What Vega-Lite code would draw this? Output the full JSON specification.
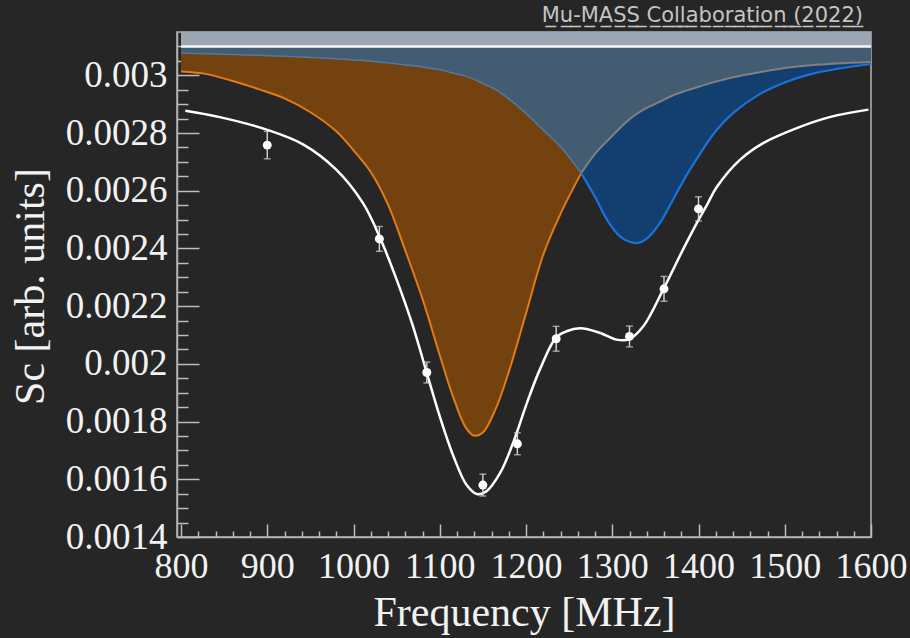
{
  "$schema": "https://vega.github.io/schema/vega-lite/v6.json",
  "autosize": {"type": "none"},
  "width": 694,
  "height": 505,
  "padding": {"left": 177, "top": 32, "right": 39, "bottom": 101},
  "background": "#262626",
  "view": {"stroke": "#b4b4b4", "strokeWidth": 1.5},
  "config": {"axis": {"labelOverlap": false, "labelFlush": false, "labelBound": false}},
  "title": {
    "text": "M\u0332u\u0332-\u0332M\u0332A\u0332S\u0332S\u0332 \u0332C\u0332o\u0332l\u0332l\u0332a\u0332b\u0332o\u0332r\u0332a\u0332t\u0332i\u0332o\u0332n\u0332 \u0332(\u03322\u03320\u03322\u03322\u0332)\u0332",
    "anchor": "end",
    "orient": "top",
    "frame": "group",
    "font": "DejaVu Sans",
    "fontSize": 21,
    "fontWeight": "normal",
    "color": "#c4c4c4",
    "baseline": "alphabetic",
    "offset": -16,
    "dx": -8
  },
  "datasets": {
    "curves": [
      {"f": 800, "o": 0.003013, "b": 0.003077},
      {"f": 830, "o": 0.003004, "b": 0.003075},
      {"f": 860, "o": 0.00298, "b": 0.003072},
      {"f": 890, "o": 0.002952, "b": 0.003069},
      {"f": 920, "o": 0.00292, "b": 0.003066},
      {"f": 950, "o": 0.002872, "b": 0.003062},
      {"f": 980, "o": 0.002806, "b": 0.003057},
      {"f": 1000, "o": 0.00274, "b": 0.003053},
      {"f": 1020, "o": 0.002665, "b": 0.003049},
      {"f": 1040, "o": 0.002552, "b": 0.003043},
      {"f": 1060, "o": 0.002393, "b": 0.003036},
      {"f": 1080, "o": 0.002225, "b": 0.003029},
      {"f": 1100, "o": 0.00203, "b": 0.003019},
      {"f": 1115, "o": 0.00189, "b": 0.003008},
      {"f": 1130, "o": 0.00178, "b": 0.002997},
      {"f": 1140, "o": 0.001751, "b": 0.002986},
      {"f": 1150, "o": 0.001762, "b": 0.002972},
      {"f": 1165, "o": 0.001845, "b": 0.00295},
      {"f": 1180, "o": 0.001972, "b": 0.002918},
      {"f": 1200, "o": 0.002175, "b": 0.002868},
      {"f": 1220, "o": 0.002378, "b": 0.00281},
      {"f": 1240, "o": 0.00252, "b": 0.002752},
      {"f": 1264, "o": 0.002661, "b": 0.002661},
      {"f": 1280, "o": 0.002728, "b": 0.002579},
      {"f": 1295, "o": 0.002775, "b": 0.002494},
      {"f": 1310, "o": 0.00282, "b": 0.002439},
      {"f": 1320, "o": 0.002848, "b": 0.002423},
      {"f": 1330, "o": 0.00287, "b": 0.002419},
      {"f": 1340, "o": 0.002887, "b": 0.002434},
      {"f": 1355, "o": 0.002908, "b": 0.002487},
      {"f": 1370, "o": 0.00293, "b": 0.002566},
      {"f": 1385, "o": 0.002946, "b": 0.002648},
      {"f": 1400, "o": 0.00296, "b": 0.00272},
      {"f": 1420, "o": 0.002978, "b": 0.002807},
      {"f": 1440, "o": 0.002993, "b": 0.002869},
      {"f": 1470, "o": 0.00301, "b": 0.002933},
      {"f": 1500, "o": 0.003025, "b": 0.002975},
      {"f": 1530, "o": 0.003035, "b": 0.003004},
      {"f": 1560, "o": 0.003041, "b": 0.003022},
      {"f": 1600, "o": 0.003046, "b": 0.003039}
    ],
    "fit": [
      {"f": 805, "w": 0.002877},
      {"f": 845, "w": 0.002855},
      {"f": 900, "w": 0.002811},
      {"f": 942, "w": 0.00276},
      {"f": 980, "w": 0.002673},
      {"f": 1011, "w": 0.002557},
      {"f": 1030, "w": 0.002442},
      {"f": 1050, "w": 0.002292},
      {"f": 1069, "w": 0.00213},
      {"f": 1085, "w": 0.001968},
      {"f": 1100, "w": 0.001818},
      {"f": 1116, "w": 0.001679},
      {"f": 1131, "w": 0.001581},
      {"f": 1143, "w": 0.001549},
      {"f": 1154, "w": 0.001558},
      {"f": 1170, "w": 0.001622},
      {"f": 1185, "w": 0.001726},
      {"f": 1201, "w": 0.001864},
      {"f": 1216, "w": 0.00198},
      {"f": 1235, "w": 0.002092},
      {"f": 1247, "w": 0.002113},
      {"f": 1263, "w": 0.002123},
      {"f": 1286, "w": 0.002107},
      {"f": 1305, "w": 0.002084},
      {"f": 1320, "w": 0.002086},
      {"f": 1336, "w": 0.00213},
      {"f": 1359, "w": 0.002257},
      {"f": 1382, "w": 0.002396},
      {"f": 1398, "w": 0.002488},
      {"f": 1410, "w": 0.002552},
      {"f": 1421, "w": 0.002612},
      {"f": 1448, "w": 0.002707},
      {"f": 1475, "w": 0.002765},
      {"f": 1514, "w": 0.002817},
      {"f": 1552, "w": 0.002855},
      {"f": 1597, "w": 0.002881}
    ],
    "points": [
      {"f": 900, "s": 0.002758, "e": 0.0000475},
      {"f": 1030, "s": 0.002433, "e": 0.000043},
      {"f": 1085, "s": 0.00197, "e": 0.000036},
      {"f": 1150, "s": 0.00158, "e": 0.000038},
      {"f": 1190, "s": 0.001723, "e": 0.000038},
      {"f": 1235, "s": 0.002087, "e": 0.000043},
      {"f": 1320, "s": 0.002095, "e": 0.000036},
      {"f": 1360, "s": 0.00226, "e": 0.000043},
      {"f": 1400, "s": 0.002537, "e": 0.000042}
    ]
  },
  "layer": [
    {
      "data": {"name": "curves"},
      "mark": {"type": "area", "interpolate": "catmull-rom", "color": "#445c72"},
      "encoding": {
        "x": {
          "field": "f", "type": "quantitative",
          "title": "Frequency [MHz]",
          "scale": {"domain": [795.36, 1600], "nice": false, "zero": false},
          "axis": {
            "values": [800,820,840,860,880,900,920,940,960,980,1000,1020,1040,1060,1080,1100,1120,1140,1160,1180,1200,1220,1240,1260,1280,1300,1320,1340,1360,1380,1400,1420,1440,1460,1480,1500,1520,1540,1560,1580,1600],
            "tickCount": 100,
            "titleFont": "Liberation Serif",
            "titleFontSize": 42,
            "titleFontWeight": "normal",
            "titleColor": "#f2f2f2",
            "titleX": 347,
            "titleY": 88,
            "titleAlign": "center",
            "titleBaseline": "alphabetic",
            "format": "d",
            "labelExpr": "datum.value % 100 == 0 ? datum.label : ''",
            "labelFont": "Liberation Serif",
            "labelFontSize": 36,
            "labelColor": "#f2f2f2",
            "labelPadding": 25,
            "labelOverlap": false,
            "labelFlush": false,
            "labelBound": false,
            "tickSize": {"condition": {"test": "datum.value % 100 == 0", "value": -13}, "value": -6},
            "tickColor": "#bdbdbd",
            "tickWidth": 1.5,
            "domainColor": "#b5b5b5",
            "domainWidth": 1.5,
            "grid": false
          }
        },
        "y": {
          "field": "o", "type": "quantitative",
          "title": "Sc [arb. units]",
          "scale": {"domain": [0.0014, 0.00315], "nice": false, "zero": false},
          "axis": {
            "values": [0.0014,0.00145,0.0015,0.00155,0.0016,0.00165,0.0017,0.00175,0.0018,0.00185,0.0019,0.00195,0.002,0.00205,0.0021,0.00215,0.0022,0.00225,0.0023,0.00235,0.0024,0.00245,0.0025,0.00255,0.0026,0.00265,0.0027,0.00275,0.0028,0.00285,0.0029,0.00295,0.003,0.00305,0.0031],
            "tickCount": 100,
            "titleFont": "Liberation Serif",
            "titleFontSize": 42,
            "titleFontWeight": "normal",
            "titleColor": "#f2f2f2",
            "titleAngle": -90,
            "titleX": -134,
            "titleY": 254,
            "titleAlign": "center",
            "titleBaseline": "alphabetic",
            "labelExpr": "abs(datum.value*5000 - round(datum.value*5000)) < 0.01 ? format(datum.value, '~g') : ''",
            "labelFont": "Liberation Serif",
            "labelFontSize": 37,
            "labelColor": "#f2f2f2",
            "labelPadding": 32,
            "labelOverlap": false,
            "labelFlush": false,
            "labelBound": false,
            "tickSize": {"condition": {"test": "abs(datum.value*5000 - round(datum.value*5000)) < 0.01", "value": -22}, "value": -11},
            "tickColor": "#bdbdbd",
            "tickWidth": 1.5,
            "domainColor": "#b5b5b5",
            "domainWidth": 1.5,
            "grid": false
          }
        },
        "y2": {"datum": 0.00315}
      }
    },
    {
      "data": {"name": "curves"},
      "mark": {"type": "area", "interpolate": "catmull-rom", "color": "#445c72"},
      "encoding": {
        "x": {"field": "f", "type": "quantitative", "title": "Frequency [MHz]"},
        "y": {"field": "b", "type": "quantitative", "title": "Sc [arb. units]"},
        "y2": {"datum": 0.00315}
      }
    },
    {
      "data": {"name": "curves"},
      "transform": [{"filter": {"field": "f", "lte": 1264}}],
      "mark": {"type": "area", "interpolate": "catmull-rom", "color": "#74420f"},
      "encoding": {
        "x": {"field": "f", "type": "quantitative", "title": "Frequency [MHz]"},
        "y": {"field": "o", "type": "quantitative", "title": "Sc [arb. units]"},
        "y2": {"field": "b"}
      }
    },
    {
      "data": {"name": "curves"},
      "transform": [{"filter": {"field": "f", "gte": 1264}}],
      "mark": {"type": "area", "interpolate": "catmull-rom", "color": "#123f70"},
      "encoding": {
        "x": {"field": "f", "type": "quantitative", "title": "Frequency [MHz]"},
        "y": {"field": "o", "type": "quantitative", "title": "Sc [arb. units]"},
        "y2": {"field": "b"}
      }
    },
    {
      "data": {"name": "curves"},
      "mark": {"type": "area", "color": "#9ba6b3"},
      "encoding": {
        "x": {"field": "f", "type": "quantitative", "title": "Frequency [MHz]"},
        "y": {"datum": 0.0031, "type": "quantitative", "title": "Sc [arb. units]"},
        "y2": {"datum": 0.00315}
      }
    },
    {
      "data": {"name": "curves"},
      "transform": [{"filter": {"field": "f", "lte": 1264}}],
      "mark": {"type": "line", "interpolate": "catmull-rom", "color": "#e37b17", "strokeWidth": 2},
      "encoding": {
        "x": {"field": "f", "type": "quantitative", "title": "Frequency [MHz]"},
        "y": {"field": "o", "type": "quantitative", "title": "Sc [arb. units]"}
      }
    },
    {
      "data": {"name": "curves"},
      "transform": [{"filter": {"field": "f", "gte": 1264}}],
      "mark": {"type": "line", "interpolate": "catmull-rom", "color": "#808080", "strokeWidth": 2},
      "encoding": {
        "x": {"field": "f", "type": "quantitative", "title": "Frequency [MHz]"},
        "y": {"field": "o", "type": "quantitative", "title": "Sc [arb. units]"}
      }
    },
    {
      "data": {"name": "curves"},
      "transform": [{"filter": {"field": "f", "lte": 1264}}],
      "mark": {"type": "line", "interpolate": "catmull-rom", "color": "#4f7aa3", "strokeWidth": 1.5},
      "encoding": {
        "x": {"field": "f", "type": "quantitative", "title": "Frequency [MHz]"},
        "y": {"field": "b", "type": "quantitative", "title": "Sc [arb. units]"}
      }
    },
    {
      "data": {"name": "curves"},
      "transform": [{"filter": {"field": "f", "gte": 1264}}],
      "mark": {"type": "line", "interpolate": "catmull-rom", "color": "#1a72dc", "strokeWidth": 2.2},
      "encoding": {
        "x": {"field": "f", "type": "quantitative", "title": "Frequency [MHz]"},
        "y": {"field": "b", "type": "quantitative", "title": "Sc [arb. units]"}
      }
    },
    {
      "data": {"name": "curves"},
      "mark": {"type": "line", "color": "#f4f6f8", "strokeWidth": 2.5},
      "encoding": {
        "x": {"field": "f", "type": "quantitative", "title": "Frequency [MHz]"},
        "y": {"datum": 0.0031, "type": "quantitative", "title": "Sc [arb. units]"}
      }
    },
    {
      "data": {"name": "fit"},
      "mark": {"type": "line", "interpolate": "catmull-rom", "color": "#ffffff", "strokeWidth": 2.5},
      "encoding": {
        "x": {"field": "f", "type": "quantitative", "title": "Frequency [MHz]"},
        "y": {"field": "w", "type": "quantitative", "title": "Sc [arb. units]"}
      }
    },
    {
      "data": {"name": "points"},
      "mark": {"type": "errorbar", "ticks": {"size": 7}, "color": "#d6d6d6", "thickness": 1.4},
      "encoding": {
        "x": {"field": "f", "type": "quantitative", "title": "Frequency [MHz]"},
        "y": {"field": "s", "type": "quantitative", "title": "Sc [arb. units]"},
        "yError": {"field": "e"}
      }
    },
    {
      "data": {"name": "points"},
      "mark": {"type": "circle", "color": "#ffffff", "opacity": 1, "size": 80},
      "encoding": {
        "x": {"field": "f", "type": "quantitative", "title": "Frequency [MHz]"},
        "y": {"field": "s", "type": "quantitative", "title": "Sc [arb. units]"}
      }
    }
  ]
}
